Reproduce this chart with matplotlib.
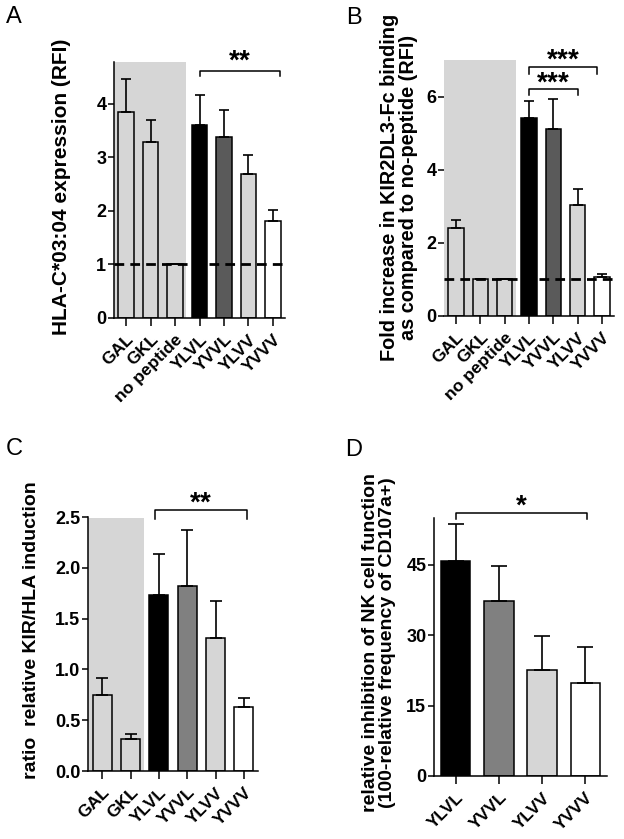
import matplotlib
matplotlib.use("Agg")
import matplotlib.pyplot as plt

plt.rcParams['font.family'] = ['Liberation Sans', 'DejaVu Sans']
plt.rcParams['mathtext.fontset'] = 'custom'
plt.rcParams['mathtext.rm'] = 'Liberation Sans:bold'
plt.rcParams['mathtext.bf'] = 'Liberation Sans:bold'

# ---- data ----
cats_A = ["GAL", "GKL", "no peptide", "YLVL", "YVVL", "YLVV", "YVVV"]
mean_A = [3.84, 3.29, 1.0, 3.61, 3.38, 2.69, 1.82]
top_A = [4.47, 3.70, 1.0, 4.16, 3.88, 3.05, 2.01]

cats_B = ["GAL", "GKL", "no peptide", "YLVL", "YVVL", "YLVV", "YVVV"]
mean_B = [2.40, 1.0, 1.0, 5.42, 5.12, 3.03, 1.08]
top_B = [2.62, 1.0, 1.0, 5.87, 5.94, 3.47, 1.14]

cats_C = ["GAL", "GKL", "YLVL", "YVVL", "YLVV", "YVVV"]
mean_C = [0.745, 0.315, 1.735, 1.82, 1.31, 0.632]
top_C = [0.92, 0.365, 2.14, 2.37, 1.67, 0.714]

cats_D = ["YLVL", "YVVL", "YLVV", "YVVV"]
mean_D = [45.9, 37.2, 22.7, 19.8]
top_D = [53.7, 44.8, 29.9, 27.4]

LG = "#d6d6d6"
colors_A = [LG, LG, LG, "#000000", "#5a5a5a", LG, "#ffffff"]
colors_B = colors_A
colors_C = [LG, LG, "#000000", "#808080", LG, "#ffffff"]
colors_D = ["#000000", "#808080", LG, "#ffffff"]

W, H = 624, 839
fig = plt.figure(figsize=(W / 100, H / 100), dpi=100)


def ax_at(l, r, b, t):
    return fig.add_axes([l / W, 1 - b / H, (r - l) / W, (b - t) / H])


def draw(ax, cats, means, tops, colors, ymax, yticks, capsize, width=0.64,
         shade=None, shade_top=1.0, dashed=False, ytl=None):
    x = list(range(len(cats)))
    if shade is not None:
        ax.axvspan(-0.5, shade, ymin=0, ymax=shade_top, color=LG, zorder=0, lw=0)
    ax.bar(x, means, width=width, color=colors, edgecolor="black", linewidth=1.1, zorder=2)
    lower = [0] * len(means)
    upper = [t - m for t, m in zip(tops, means)]
    ax.errorbar(x, means, yerr=[lower, upper], fmt="none", ecolor="black",
                elinewidth=1.2, capsize=capsize, capthick=1.2, zorder=3)
    if dashed:
        ax.axhline(1.0, color="black", lw=2.0, ls=(0, (3.5, 2.2)), zorder=4)
    ax.set_xlim(-0.5, len(cats) - 0.5)
    ax.set_ylim(0, ymax)
    ax.set_yticks(yticks)
    if ytl is not None:
        ax.set_yticklabels(ytl)
    ax.set_xticks(x)
    ax.set_xticklabels(cats, rotation=45, ha="right", rotation_mode="anchor",
                       fontsize=12.5, fontweight="bold")
    for s in ["top", "right"]:
        ax.spines[s].set_visible(False)
    for s in ["left", "bottom"]:
        ax.spines[s].set_linewidth(1.1)
    ax.tick_params(axis="x", length=6, width=1.1, pad=4)
    ax.tick_params(axis="y", length=4, width=1.1, pad=1.5, labelsize=13)
    for lab in ax.get_yticklabels():
        lab.set_fontweight("bold")
    ax.patch.set_alpha(0)


def bracket(ax, x1, x2, y, drop, nstars, gap_pt):
    ax.plot([x1, x1, x2, x2], [y - drop, y, y, y - drop], color="black", lw=1.1,
            clip_on=False, zorder=5)
    stars = "{*}" * nstars
    ax.annotate(r"$\mathrm{" + stars + "}$", xy=((x1 + x2) / 2, y),
                xytext=(0, gap_pt), textcoords="offset points",
                ha="center", va="bottom", fontsize=20, annotation_clip=False)


# Panel A
axA = ax_at(114, 285, 318, 62)
draw(axA, cats_A, mean_A, top_A, colors_A, 4.78, [0, 1, 2, 3, 4], 3.6,
     shade=2.45, dashed=True)
bracket(axA, 3, 6.28, 4.62, 0.1, 2, -2.0)

# Panel B
axB = ax_at(444, 614, 316, 60)
draw(axB, cats_B, mean_B, top_B, colors_B, 7.0, [0, 2, 4, 6], 3.6,
     shade=2.45, dashed=True)
axB.spines["left"].set_visible(False)
bracket(axB, 3, 5.8, 6.81, 0.18, 3, -4.0)
bracket(axB, 3, 5.0, 6.21, 0.16, 3, -4.5)

# Panel C
axC = ax_at(88, 258, 771, 517)
draw(axC, cats_C, mean_C, top_C, colors_C, 2.5, [0, 0.5, 1.0, 1.5, 2.0, 2.5], 4.3,
     width=0.67, shade=1.46, shade_top=0.995,
     ytl=["0.0", "0.5", "1.0", "1.5", "2.0", "2.5"])
bracket(axC, 1.85, 5.1, 2.565, 0.085, 2, -4.0)

# Panel D
axD = ax_at(434, 607, 776, 518)
draw(axD, cats_D, mean_D, top_D, colors_D, 55, [0, 15, 30, 45], 6.0, width=0.68)
bracket(axD, 0, 3.03, 56.0, 1.2, 1, -4.0)

# axis labels
fig.text(62 / W, 1 - 187 / H, "HLA-C*03:04 expression (RFI)", rotation=90,
         ha="center", va="center", fontsize=15, fontweight="bold")
fig.text(399 / W, 1 - 187 / H,
         "Fold increase in KIR2DL3-Fc binding\nas compared to no-peptide (RFI)",
         rotation=90, ha="center", va="center", fontsize=14.3, fontweight="bold",
         linespacing=1.05)
fig.text(32 / W, 1 - 630 / H, "ratio  relative KIR/HLA induction", rotation=90,
         ha="center", va="center", fontsize=14, fontweight="bold")
fig.text(379 / W, 1 - 643 / H,
         "relative inhibition of NK cell function\n(100-relative frequency of CD107a+)",
         rotation=90, ha="center", va="center", fontsize=14, fontweight="bold",
         linespacing=1.05)

# panel letters
for lx, ly, L in [(6, 17, "A"), (346, 18, "B"), (6, 449, "C"), (345, 450, "D")]:
    fig.text(lx / W, 1 - ly / H, L, ha="left", va="center", fontsize=17)

fig.savefig("out.png", dpi=100)
